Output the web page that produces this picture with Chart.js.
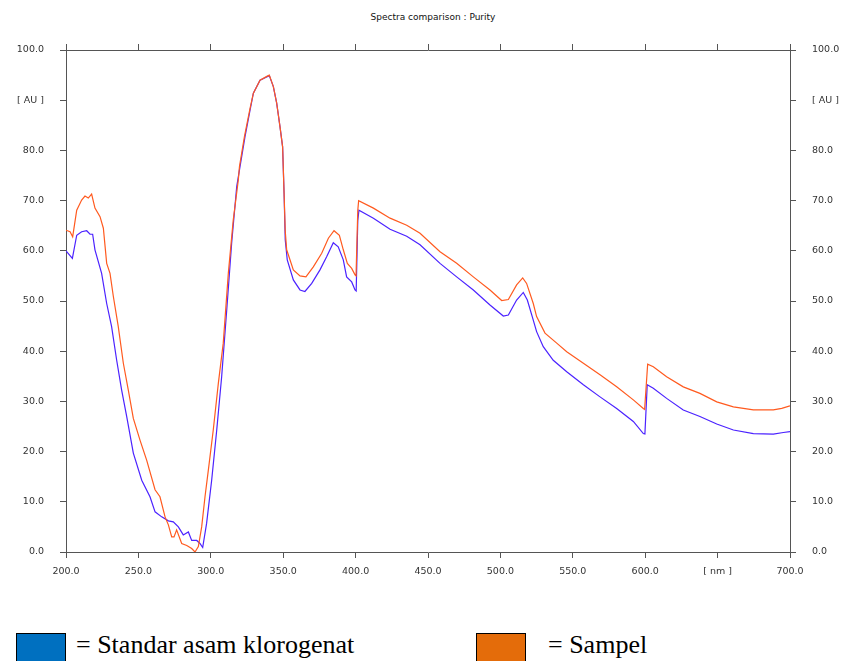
<!DOCTYPE html>
<html>
<head>
<meta charset="utf-8">
<script src="https://cdn.jsdelivr.net/npm/chart.js@4.4.1/dist/chart.umd.min.js"></script>
<style>
  html, body { margin: 0; padding: 0; background: #fff; }
  body { width: 845px; height: 661px; overflow: hidden; position: relative; }
  #title { position: absolute; top: 12px; left: 0; width: 866px; text-align: center;
           font: 9px "DejaVu Sans", sans-serif; color: #111; }
  #c { position: absolute; left: 0; top: 0; }
  .lg { position: absolute; top: 633px; height: 34px; width: 50px; border: 1.5px solid #000; box-sizing: border-box; }
  .lt { position: absolute; top: 630px; font: 26px "Liberation Serif", "Times New Roman", serif; color: #000; white-space: nowrap; }
</style>
</head>
<body>
<div id="title">Spectra comparison : Purity</div>
<canvas id="c" width="845" height="600"></canvas>
<div class="lg" style="left:16px;background:#0070c0"></div>
<div class="lt" style="left:76px">= Standar asam klorogenat</div>
<div class="lg" style="left:476px;background:#e46c0a"></div>
<div class="lt" style="left:548px">= Sampel</div>
<script>
// ---- data ----
const seriesNames = ["Standar asam klorogenat", "Sampel"];

const standarNm = [200, 204.4, 207.4, 210.8, 214.3, 216.6, 218.4, 220, 224.6, 228.1, 231.5, 235, 238.4, 241.9, 246.5, 252.3, 258, 261.5, 266.1, 270.7, 274.1, 277.6, 281, 284.5, 286.8, 290.3, 292.5, 294.4, 297.1, 300.6, 304.1, 307.5, 311, 314.4, 317.9, 320.2, 323.6, 327.1, 329.4, 334, 340.4, 343.2, 345.5, 347.8, 349.6, 350.6, 351.4, 352.8, 357, 361.6, 365, 369.7, 375.4, 380, 384.6, 388, 391.5, 393.8, 397.3, 399.6, 400.4, 401.5, 402.3, 412.3, 423.8, 435.3, 444.5, 458.3, 469.8, 481.3, 492.8, 502, 505.5, 511.2, 515.8, 518.6, 522.7, 525, 529.6, 536.5, 545.8, 557.3, 568.8, 580.3, 591.8, 598.7, 599.8, 601.4, 605.6, 614.8, 626.3, 637.8, 649.4, 660.9, 674.7, 688.5, 695.4, 700];
const standarAu = [60.0, 58.5, 63.1, 63.8, 64.0, 63.3, 63.3, 60.2, 55.5, 49.5, 44.9, 38.2, 32.3, 27.0, 19.7, 14.3, 11.0, 8.0, 7.0, 6.2, 6.0, 5.0, 3.4, 4.0, 2.3, 2.3, 1.7, 0.9, 5.7, 14.3, 24.3, 34.9, 48.2, 61.5, 72.8, 76.8, 82.7, 88.0, 91.4, 94.0, 94.9, 92.7, 89.4, 84.7, 80.7, 71.5, 62.2, 58.2, 54.2, 52.2, 51.9, 53.5, 56.2, 58.8, 61.6, 60.8, 58.2, 54.8, 53.8, 52.2, 52.0, 66.0, 68.1, 66.5, 64.3, 62.9, 61.2, 57.5, 54.8, 52.2, 49.2, 47.0, 47.2, 50.2, 51.7, 50.2, 46.2, 43.9, 40.9, 38.2, 35.9, 33.3, 30.9, 28.6, 26.0, 23.6, 23.5, 33.3, 32.6, 30.6, 28.3, 27.0, 25.5, 24.3, 23.6, 23.5, 23.8, 24.0];

const sampelNm = [200, 202.8, 204.6, 207.4, 210.8, 213.1, 215.4, 217.7, 220, 223.5, 225.8, 228.1, 230.4, 232.7, 236.1, 239.6, 243, 246.5, 251.1, 255.7, 261.5, 264.9, 268.4, 270.7, 273, 274.6, 276.4, 279.9, 283.4, 286.8, 289.1, 291.4, 293.7, 296, 298.3, 301.7, 305.2, 308.6, 312.1, 315.5, 319, 319.8, 323.2, 327, 329.4, 334, 339, 340.4, 343.2, 345.5, 347.8, 349.6, 350.6, 351.4, 352.4, 357, 361.6, 365.7, 370.8, 376.6, 381.2, 385.1, 388.8, 391.5, 394.3, 397.3, 399.6, 400.3, 401.5, 402.1, 412.3, 423.8, 435.3, 444.5, 458.3, 469.8, 481.3, 492.8, 500.9, 505.5, 511.2, 515.4, 518.1, 522.7, 525, 530.8, 538.9, 545.8, 557.3, 568.8, 580.3, 591.8, 598.7, 599.6, 601.7, 605.6, 614.8, 626.3, 637.8, 649.4, 660.9, 674.7, 688.5, 694.3, 700];
const sampelAu = [64.1, 63.8, 62.8, 68.1, 70.1, 70.9, 70.5, 71.3, 68.5, 66.8, 64.5, 57.5, 55.5, 50.9, 44.9, 37.6, 32.3, 26.6, 22.3, 18.3, 12.4, 11.0, 7.0, 5.4, 3.0, 3.0, 4.4, 1.7, 1.3, 0.7, 0.0, 1.1, 5.0, 11.0, 16.3, 24.3, 33.6, 41.6, 55.5, 66.1, 74.1, 76.8, 82.7, 88.2, 91.4, 94.0, 94.8, 95.0, 92.7, 89.4, 84.7, 80.7, 71.5, 64.0, 60.2, 56.2, 55.0, 54.8, 56.8, 59.5, 62.5, 64.0, 63.1, 60.2, 57.5, 56.5, 55.2, 55.0, 68.0, 70.0, 68.5, 66.5, 65.1, 63.5, 59.8, 57.5, 54.8, 52.2, 50.1, 50.3, 53.2, 54.6, 53.5, 49.5, 46.9, 43.6, 41.6, 39.9, 37.6, 35.3, 32.9, 30.3, 28.6, 28.4, 37.4, 36.9, 34.9, 32.9, 31.6, 29.9, 28.9, 28.3, 28.3, 28.6, 29.1];

const xTickValues = [200, 250, 300, 350, 400, 450, 500, 550, 600, 650, 700];
const xTickLabels = ["200.0", "250.0", "300.0", "350.0", "400.0", "450.0", "500.0", "550.0", "600.0", "[ nm ]", "700.0"];
const yTickValues = [0, 10, 20, 30, 40, 50, 60, 70, 80, 90, 100];
const yTickLabels = ["0.0", "10.0", "20.0", "30.0", "40.0", "50.0", "60.0", "70.0", "80.0", "[ AU ]", "100.0"];

// ---- chart ----
const FONT = { family: "DejaVu Sans", size: 9.5 };
const AXIS = "#555";
const TXT = "#333";

function pts(xs, ys) { return xs.map((x, i) => ({ x: x, y: ys[i] })); }
function setTicks(vals) { return function (scale) { scale.ticks = vals.map(v => ({ value: v })); }; }
function labelOf(vals, labels) { return function (v) { const i = vals.indexOf(v); return i >= 0 ? labels[i] : ""; }; }

const common = (extra) => Object.assign({
  type: "linear",
  grid: { drawOnChartArea: false, drawTicks: true, tickLength: 6, color: AXIS, lineWidth: 1 },
  border: { display: true, color: AXIS, width: 1 }
}, extra);

new Chart(document.getElementById("c"), {
  type: "line",
  data: {
    datasets: [
      { label: seriesNames[1], data: pts(sampelNm, sampelAu), borderColor: "#ff5a1f", borderWidth: 1.2, xAxisID: "x", yAxisID: "y" },
      { label: seriesNames[0], data: pts(standarNm, standarAu), borderColor: "#4b22ff", borderWidth: 1.2, xAxisID: "x", yAxisID: "y" }
    ]
  },
  options: {
    responsive: false,
    animation: false,
    devicePixelRatio: 1,
    layout: { padding: 0 },
    elements: { point: { radius: 0 }, line: { tension: 0 } },
    plugins: { legend: { display: false }, tooltip: { enabled: false }, title: { display: false } },
    scales: {
      x: common({
        position: "bottom", min: 200, max: 700,
        afterBuildTicks: setTicks(xTickValues),
        afterFit: s => { s.height = 48; },
        ticks: { autoSkip: false, maxRotation: 0, padding: 8, color: TXT, font: FONT, callback: labelOf(xTickValues, xTickLabels) }
      }),
      x2: common({
        position: "top", min: 200, max: 700,
        afterBuildTicks: setTicks(xTickValues),
        afterFit: s => { s.height = 50; },
        ticks: { display: false }
      }),
      y: common({
        position: "left", min: 0, max: 100,
        afterBuildTicks: setTicks(yTickValues),
        afterFit: s => { s.width = 66; },
        ticks: { autoSkip: false, padding: 16, color: TXT, font: FONT, callback: labelOf(yTickValues, yTickLabels) }
      }),
      y2: common({
        position: "right", min: 0, max: 100,
        afterBuildTicks: setTicks(yTickValues),
        afterFit: s => { s.width = 55; },
        ticks: { autoSkip: false, padding: 16, color: TXT, font: FONT, callback: labelOf(yTickValues, yTickLabels) }
      })
    }
  }
});
</script>
</body>
</html>
